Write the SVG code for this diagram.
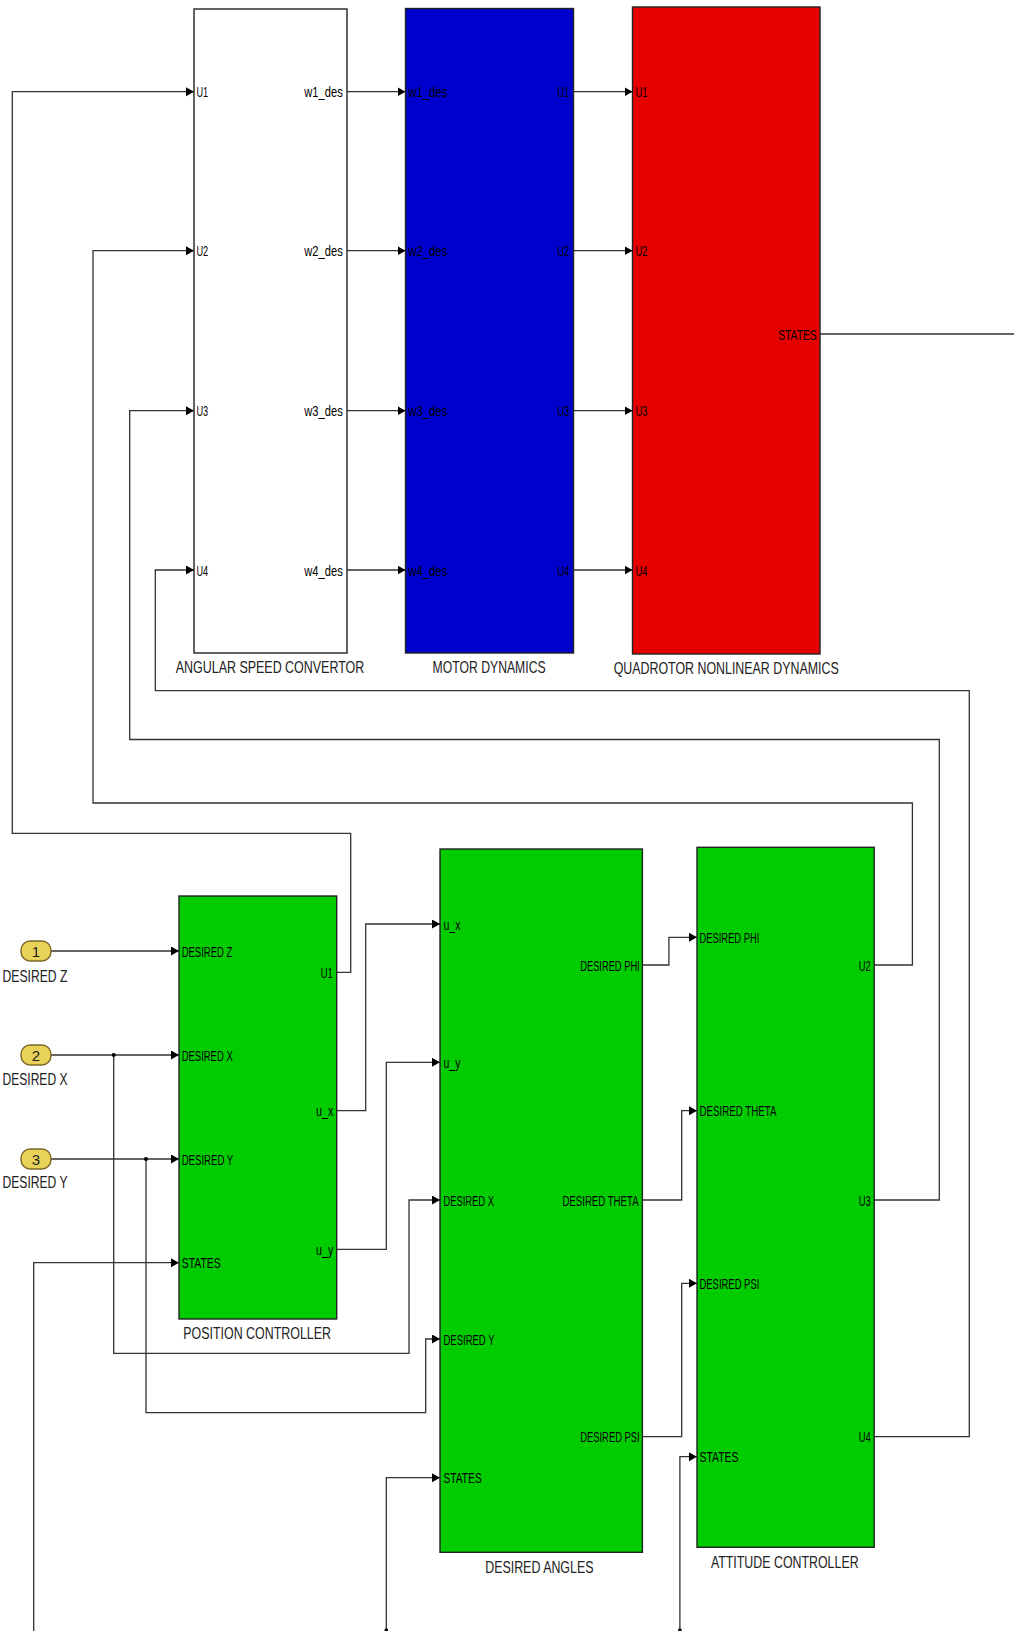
<svg xmlns="http://www.w3.org/2000/svg" width="1014" height="1631" viewBox="0 0 1014 1631">
<defs>
<marker id="arr" markerUnits="userSpaceOnUse" markerWidth="9" markerHeight="10" refX="8" refY="4.5" orient="auto"><path d="M0,0 L8,4.5 L0,9 z" fill="#000"/></marker>
<style>
.blk{stroke:#222;stroke-width:1.4}
.pt{font-family:"Liberation Sans",Arial,sans-serif;font-size:15px;fill:#000}
.bn{font-family:"Liberation Sans",Arial,sans-serif;font-size:17px;fill:#222}
.ln{fill:none;stroke:#333;stroke-width:1.3}
.ar{marker-end:url(#arr)}
.ip{fill:#e9d25a;stroke:#7a6a28;stroke-width:1.4}
.ipn{font-family:"Liberation Sans",Arial,sans-serif;font-size:15px;fill:#222;text-anchor:middle}
</style>
</defs>
<rect width="1014" height="1631" fill="#fff"/>

<g id="connectors">
<path class="ln ar" d="M347,91.7 H405.5"/>
<path class="ln ar" d="M347,250.7 H405.5"/>
<path class="ln ar" d="M347,410.7 H405.5"/>
<path class="ln ar" d="M347,570 H405.5"/>
<path class="ln ar" d="M573.5,91.7 H632.5"/>
<path class="ln ar" d="M573.5,250.7 H632.5"/>
<path class="ln ar" d="M573.5,410.7 H632.5"/>
<path class="ln ar" d="M573.5,570 H632.5"/>
<path class="ln" d="M820,334 H1014"/>
<path class="ln ar" d="M51,951 H179"/>
<path class="ln ar" d="M51,1055 H179"/>
<path class="ln ar" d="M51,1159 H179"/>
<path class="ln ar" d="M113.7,1055 V1353.3 H409 V1200 H440"/>
<path class="ln ar" d="M146,1159 V1412.7 H425.7 V1339 H440"/>
<circle cx="113.7" cy="1055" r="2" fill="#000"/>
<circle cx="146" cy="1159" r="2" fill="#000"/>
<path class="ln ar" d="M336.7,972.3 H350.7 V833.3 H12.3 V91.7 H194"/>
<path class="ln ar" d="M336.7,1110.7 H365.7 V924 H440"/>
<path class="ln ar" d="M336.7,1249.3 H386.3 V1062.3 H440"/>
<path class="ln ar" d="M33.7,1631 V1262.7 H179"/>
<path class="ln ar" d="M386.3,1631 V1477.7 H440"/>
<path class="ln ar" d="M679.9,1631 V1456.7 H697"/>
<circle cx="386.3" cy="1630" r="1.8" fill="#000"/>
<circle cx="679.9" cy="1630" r="1.8" fill="#000"/>
<path class="ln ar" d="M642.4,965 H668.9 V937.3 H697"/>
<path class="ln ar" d="M642.4,1200 H681.7 V1110.7 H697"/>
<path class="ln ar" d="M642.4,1436.7 H681.7 V1283.3 H697"/>
<path class="ln ar" d="M874.2,965 H912.4 V803 H93 V250.7 H194"/>
<path class="ln ar" d="M874.2,1200 H939.3 V739.5 H129.7 V410.7 H194"/>
<path class="ln ar" d="M874.2,1436.7 H969.3 V690.7 H155.3 V570 H194"/>
</g>

<g id="angular-speed-convertor">
<rect class="blk" x="194" y="9" width="153" height="644" fill="#fff"/>
<text class="pt" x="196.5" y="97.3" textLength="11.7" lengthAdjust="spacingAndGlyphs">U1</text>
<text class="pt" x="196.5" y="256.3" textLength="11.7" lengthAdjust="spacingAndGlyphs">U2</text>
<text class="pt" x="196.5" y="416.3" textLength="11.7" lengthAdjust="spacingAndGlyphs">U3</text>
<text class="pt" x="196.5" y="575.6" textLength="11.7" lengthAdjust="spacingAndGlyphs">U4</text>
<text class="pt" x="304.3" y="97.3" textLength="38.4" lengthAdjust="spacingAndGlyphs">w1_des</text>
<text class="pt" x="304.3" y="256.3" textLength="38.4" lengthAdjust="spacingAndGlyphs">w2_des</text>
<text class="pt" x="304.3" y="416.3" textLength="38.4" lengthAdjust="spacingAndGlyphs">w3_des</text>
<text class="pt" x="304.3" y="575.6" textLength="38.4" lengthAdjust="spacingAndGlyphs">w4_des</text>
<text class="bn" x="175.7" y="673.3" textLength="188.6" lengthAdjust="spacingAndGlyphs">ANGULAR SPEED CONVERTOR</text>
</g>

<g id="motor-dynamics">
<rect class="blk" x="405.5" y="8.5" width="168" height="644.5" fill="#0000cc"/>
<text class="pt" x="408.3" y="97.3" textLength="39" lengthAdjust="spacingAndGlyphs">w1_des</text>
<text class="pt" x="408.3" y="256.3" textLength="39" lengthAdjust="spacingAndGlyphs">w2_des</text>
<text class="pt" x="408.3" y="416.3" textLength="39" lengthAdjust="spacingAndGlyphs">w3_des</text>
<text class="pt" x="408.3" y="575.6" textLength="39" lengthAdjust="spacingAndGlyphs">w4_des</text>
<text class="pt" x="557.3" y="97.3" textLength="12" lengthAdjust="spacingAndGlyphs">U1</text>
<text class="pt" x="557.3" y="256.3" textLength="12" lengthAdjust="spacingAndGlyphs">U2</text>
<text class="pt" x="557.3" y="416.3" textLength="12" lengthAdjust="spacingAndGlyphs">U3</text>
<text class="pt" x="557.3" y="575.6" textLength="12" lengthAdjust="spacingAndGlyphs">U4</text>
<text class="bn" x="432.6" y="673.3" textLength="113" lengthAdjust="spacingAndGlyphs">MOTOR DYNAMICS</text>
</g>

<g id="quadrotor-nonlinear-dynamics">
<rect class="blk" x="632.5" y="7" width="187.5" height="647" fill="#e60000"/>
<text class="pt" x="635.5" y="97.3" textLength="12" lengthAdjust="spacingAndGlyphs">U1</text>
<text class="pt" x="635.5" y="256.3" textLength="12" lengthAdjust="spacingAndGlyphs">U2</text>
<text class="pt" x="635.5" y="416.3" textLength="12" lengthAdjust="spacingAndGlyphs">U3</text>
<text class="pt" x="635.5" y="575.6" textLength="12" lengthAdjust="spacingAndGlyphs">U4</text>
<text class="pt" x="778.2" y="339.6" textLength="38.4" lengthAdjust="spacingAndGlyphs">STATES</text>
<text class="bn" x="613.7" y="674.3" textLength="225" lengthAdjust="spacingAndGlyphs">QUADROTOR NONLINEAR DYNAMICS</text>
</g>

<g id="inport-1">
<rect class="ip" x="21" y="941" width="30" height="20" rx="9" ry="9"/>
<text class="ipn" x="36" y="956.5">1</text>
<text class="bn" x="2.5" y="981.7" textLength="65" lengthAdjust="spacingAndGlyphs">DESIRED Z</text>
</g>
<g id="inport-2">
<rect class="ip" x="21" y="1045" width="30" height="20" rx="9" ry="9"/>
<text class="ipn" x="36" y="1060.5">2</text>
<text class="bn" x="2.5" y="1085" textLength="65" lengthAdjust="spacingAndGlyphs">DESIRED X</text>
</g>
<g id="inport-3">
<rect class="ip" x="21" y="1149" width="30" height="20" rx="9" ry="9"/>
<text class="ipn" x="36" y="1164.5">3</text>
<text class="bn" x="2.5" y="1188.3" textLength="65" lengthAdjust="spacingAndGlyphs">DESIRED Y</text>
</g>

<g id="position-controller">
<rect class="blk" x="179" y="896" width="157.7" height="423" fill="#00cc00"/>
<text class="pt" x="181.7" y="956.7" textLength="50.6" lengthAdjust="spacingAndGlyphs">DESIRED Z</text>
<text class="pt" x="181.7" y="1060.7" textLength="51" lengthAdjust="spacingAndGlyphs">DESIRED X</text>
<text class="pt" x="181.7" y="1164.7" textLength="51.5" lengthAdjust="spacingAndGlyphs">DESIRED Y</text>
<text class="pt" x="181.7" y="1268.3" textLength="39" lengthAdjust="spacingAndGlyphs">STATES</text>
<text class="pt" x="320.7" y="977.9" textLength="12" lengthAdjust="spacingAndGlyphs">U1</text>
<text class="pt" x="316" y="1116.2" textLength="17.3" lengthAdjust="spacingAndGlyphs">u_x</text>
<text class="pt" x="316" y="1254.8" textLength="17.3" lengthAdjust="spacingAndGlyphs">u_y</text>
<text class="bn" x="183.3" y="1339.3" textLength="147.7" lengthAdjust="spacingAndGlyphs">POSITION CONTROLLER</text>
</g>

<g id="desired-angles">
<rect class="blk" x="440" y="849" width="202.4" height="703.3" fill="#00cc00"/>
<text class="pt" x="443.5" y="929.5" textLength="17" lengthAdjust="spacingAndGlyphs">u_x</text>
<text class="pt" x="443.5" y="1067.8" textLength="17" lengthAdjust="spacingAndGlyphs">u_y</text>
<text class="pt" x="443.5" y="1205.5" textLength="50.4" lengthAdjust="spacingAndGlyphs">DESIRED X</text>
<text class="pt" x="443.5" y="1344.5" textLength="51" lengthAdjust="spacingAndGlyphs">DESIRED Y</text>
<text class="pt" x="443.5" y="1483.2" textLength="38.2" lengthAdjust="spacingAndGlyphs">STATES</text>
<text class="pt" x="580.2" y="970.5" textLength="59.5" lengthAdjust="spacingAndGlyphs">DESIRED PHI</text>
<text class="pt" x="562.4" y="1205.5" textLength="76.2" lengthAdjust="spacingAndGlyphs">DESIRED THETA</text>
<text class="pt" x="580.2" y="1442.2" textLength="59.5" lengthAdjust="spacingAndGlyphs">DESIRED PSI</text>
<text class="bn" x="485.2" y="1572.7" textLength="108.3" lengthAdjust="spacingAndGlyphs">DESIRED ANGLES</text>
</g>

<g id="attitude-controller">
<rect class="blk" x="697" y="847.3" width="177.2" height="700" fill="#00cc00"/>
<text class="pt" x="699.5" y="942.8" textLength="59.8" lengthAdjust="spacingAndGlyphs">DESIRED PHI</text>
<text class="pt" x="699.5" y="1116.2" textLength="76.9" lengthAdjust="spacingAndGlyphs">DESIRED THETA</text>
<text class="pt" x="699.5" y="1288.8" textLength="59.8" lengthAdjust="spacingAndGlyphs">DESIRED PSI</text>
<text class="pt" x="699.5" y="1462.2" textLength="39" lengthAdjust="spacingAndGlyphs">STATES</text>
<text class="pt" x="858.7" y="970.5" textLength="12" lengthAdjust="spacingAndGlyphs">U2</text>
<text class="pt" x="858.7" y="1205.5" textLength="12" lengthAdjust="spacingAndGlyphs">U3</text>
<text class="pt" x="858.7" y="1442.2" textLength="12" lengthAdjust="spacingAndGlyphs">U4</text>
<text class="bn" x="710.9" y="1567.5" textLength="147.7" lengthAdjust="spacingAndGlyphs">ATTITUDE CONTROLLER</text>
</g>
</svg>
